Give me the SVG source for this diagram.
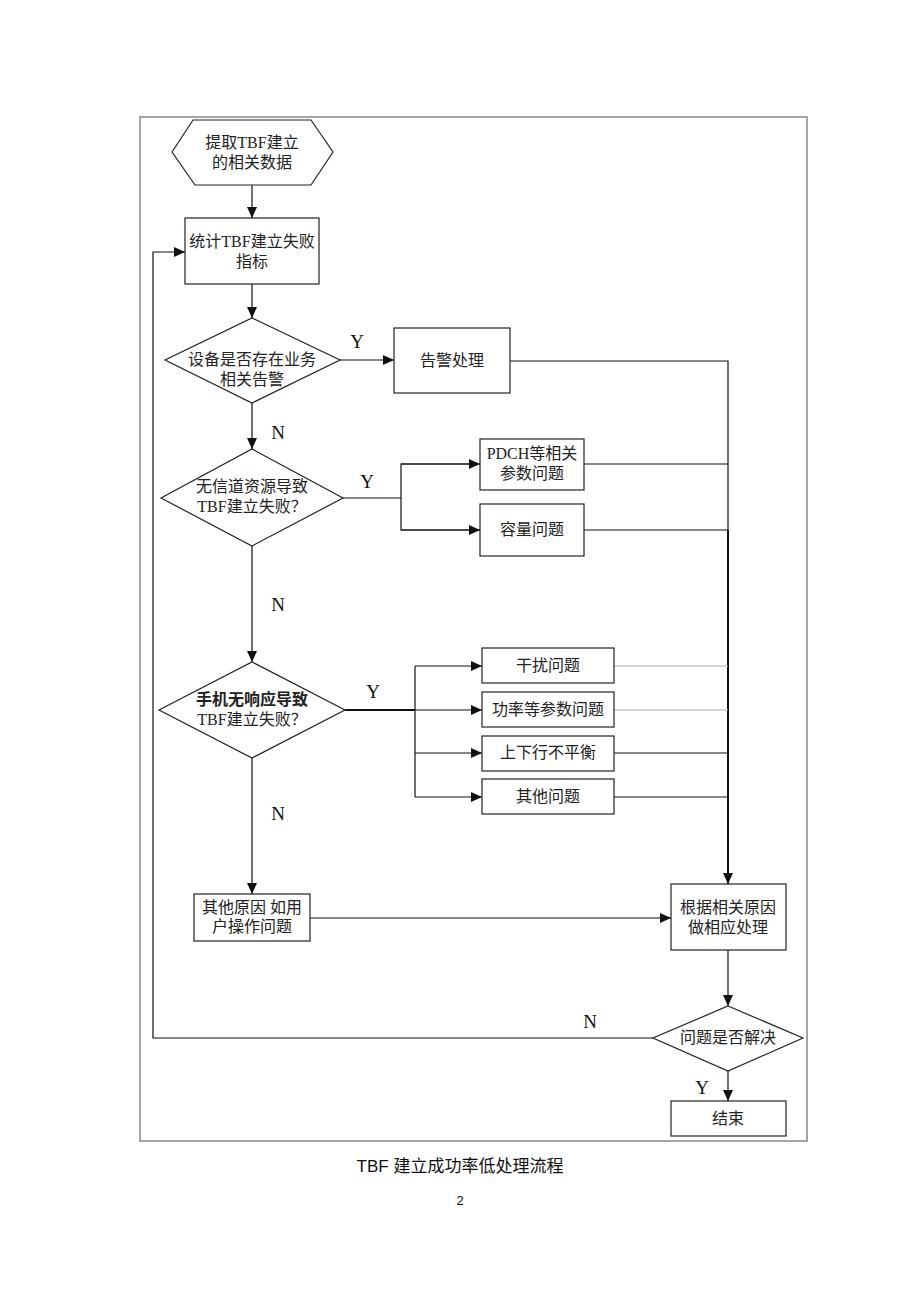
<svg xmlns="http://www.w3.org/2000/svg" width="920" height="1302" viewBox="0 0 920 1302">
<style>
.t{font-family:"Liberation Serif","Noto Sans CJK SC",serif;font-size:16px;fill:#222;text-anchor:middle}
.b{font-weight:bold}
.lbl{font-family:"Liberation Serif",serif;font-size:19px;fill:#111;text-anchor:middle}
.shape{fill:#fff;stroke:#222;stroke-width:1.2}
.c{fill:none;stroke:#111;stroke-width:1.2}
.thick{fill:none;stroke:#111;stroke-width:2}
.gray{fill:none;stroke:#aaa;stroke-width:1}
.frame{fill:none;stroke:#888;stroke-width:1.5}
.cap{font-family:"Liberation Sans","Noto Sans CJK SC",sans-serif;font-size:17px;fill:#111;text-anchor:middle}
</style>
<defs>
<marker id="arr" markerUnits="userSpaceOnUse" markerWidth="11" markerHeight="10" refX="11" refY="5" orient="auto">
<path d="M0,0 L11,5 L0,10 z" fill="#111"/>
</marker>
</defs>
<rect width="920" height="1302" fill="#fff"/>
<rect class="frame" x="140" y="117" width="667" height="1024"/>

<g id="connectors">
<line class="c" x1="252" y1="185" x2="252" y2="218" marker-end="url(#arr)"/>
<line class="c" x1="252" y1="284" x2="252" y2="318" marker-end="url(#arr)"/>
<line class="c" x1="340" y1="360" x2="394" y2="360" marker-end="url(#arr)"/>
<polyline class="c" points="510,361 728,361 728,530"/>
<line class="c" x1="252" y1="403" x2="252" y2="449" marker-end="url(#arr)"/>
<line class="c" x1="343" y1="498" x2="401" y2="498"/>
<polyline class="c" points="480,464 401,464 401,530 480,530"/>
<line class="c" x1="401" y1="464" x2="480" y2="464" marker-end="url(#arr)"/>
<line class="c" x1="401" y1="530" x2="480" y2="530" marker-end="url(#arr)"/>
<line class="c" x1="584" y1="464" x2="728" y2="464"/>
<line class="c" x1="584" y1="530" x2="728" y2="530"/>
<line class="thick" x1="728" y1="530" x2="728" y2="884" marker-end="url(#arr)"/>
<line class="c" x1="252" y1="546" x2="252" y2="662" marker-end="url(#arr)"/>
<line class="thick" x1="345" y1="710" x2="415" y2="710"/>
<line class="c" x1="415" y1="710" x2="482" y2="710" marker-end="url(#arr)"/>
<line class="c" x1="415" y1="666" x2="415" y2="797"/>
<line class="c" x1="415" y1="666" x2="482" y2="666" marker-end="url(#arr)"/>
<line class="c" x1="415" y1="753" x2="482" y2="753" marker-end="url(#arr)"/>
<line class="c" x1="415" y1="797" x2="482" y2="797" marker-end="url(#arr)"/>
<line class="gray" x1="614" y1="666" x2="728" y2="666"/>
<line class="gray" x1="614" y1="710" x2="728" y2="710"/>
<line class="c" x1="614" y1="753" x2="728" y2="753"/>
<line class="c" x1="614" y1="797" x2="728" y2="797"/>
<line class="c" x1="252" y1="758" x2="252" y2="894" marker-end="url(#arr)"/>
<line class="c" x1="310" y1="918" x2="671" y2="918" marker-end="url(#arr)"/>
<line class="c" x1="728" y1="950" x2="728" y2="1006" marker-end="url(#arr)"/>
<line class="c" x1="728" y1="1071" x2="728" y2="1101" marker-end="url(#arr)"/>
<polyline class="c" points="653,1038 153,1038 153,252 185,252" marker-end="url(#arr)"/>
</g>

<g id="labels">
<text class="lbl" x="357" y="348">Y</text>
<text class="lbl" x="278" y="439">N</text>
<text class="lbl" x="367" y="488">Y</text>
<text class="lbl" x="278" y="611">N</text>
<text class="lbl" x="373" y="698">Y</text>
<text class="lbl" x="278" y="820">N</text>
<text class="lbl" x="590" y="1028">N</text>
<text class="lbl" x="702" y="1094">Y</text>
</g>

<g id="start">
<polygon class="shape" points="172,152 193,120 311,120 333,152 311,185 195,185"/>
<text class="t" x="252" y="148">提取TBF建立</text>
<text class="t" x="252" y="168">的相关数据</text>
</g>
<g id="stat">
<rect class="shape" x="185" y="218" width="134" height="66"/>
<text class="t" x="252" y="247">统计TBF建立失败</text>
<text class="t" x="252" y="267">指标</text>
</g>
<g id="d1">
<polygon class="shape" points="252,318 340,360 252,403 165,360"/>
<text class="t" x="252" y="365">设备是否存在业务</text>
<text class="t" x="252" y="385">相关告警</text>
</g>
<g id="alarm">
<rect class="shape" x="394" y="328" width="116" height="65"/>
<text class="t" x="452" y="366">告警处理</text>
</g>
<g id="d2">
<polygon class="shape" points="252,449 343,498 252,546 161,498"/>
<text class="t" x="252" y="492">无信道资源导致</text>
<text class="t" x="252" y="512">TBF建立失败？</text>
</g>
<g id="pdch">
<rect class="shape" x="480" y="439" width="104" height="51"/>
<text class="t" x="532" y="459">PDCH等相关</text>
<text class="t" x="532" y="479">参数问题</text>
</g>
<g id="capacity">
<rect class="shape" x="480" y="504" width="104" height="52"/>
<text class="t" x="532" y="535">容量问题</text>
</g>
<g id="d3">
<polygon class="shape" points="252,662 345,710 252,758 159,710"/>
<text class="t b" x="252" y="705">手机无响应导致</text>
<text class="t" x="252" y="725">TBF建立失败？</text>
</g>
<g id="interference">
<rect class="shape" x="482" y="648" width="132" height="35"/>
<text class="t" x="548" y="671">干扰问题</text>
</g>
<g id="power">
<rect class="shape" x="482" y="692" width="132" height="35"/>
<text class="t" x="548" y="715">功率等参数问题</text>
</g>
<g id="imbalance">
<rect class="shape" x="482" y="736" width="132" height="35"/>
<text class="t" x="548" y="758">上下行不平衡</text>
</g>
<g id="other">
<rect class="shape" x="482" y="779" width="132" height="35"/>
<text class="t" x="548" y="802">其他问题</text>
</g>
<g id="user">
<rect class="shape" x="194" y="894" width="116" height="47"/>
<text class="t" x="252" y="913">其他原因 如用</text>
<text class="t" x="252" y="932">户操作问题</text>
</g>
<g id="handle">
<rect class="shape" x="671" y="884" width="115" height="66"/>
<text class="t" x="728" y="913">根据相关原因</text>
<text class="t" x="728" y="933">做相应处理</text>
</g>
<g id="d4">
<polygon class="shape" points="728,1006 803,1038 728,1071 653,1038"/>
<text class="t" x="728" y="1043">问题是否解决</text>
</g>
<g id="end">
<rect class="shape" x="671" y="1101" width="115" height="35"/>
<text class="t" x="728" y="1124">结束</text>
</g>

<text class="cap" x="460" y="1172">TBF 建立成功率低处理流程</text>
<text class="cap" x="460" y="1205" style="font-size:13px">2</text>
</svg>
